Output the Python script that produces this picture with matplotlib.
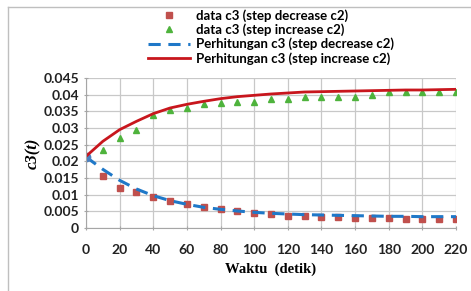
import matplotlib

matplotlib.use("Agg")
import matplotlib.pyplot as plt
from matplotlib.lines import Line2D

t_data = [0, 10, 20, 30, 40, 50, 60, 70, 80, 90, 100, 110, 120, 130, 140,
          150, 160, 170, 180, 190, 200, 210, 220]
data_decrease = [0.0213, 0.0155, 0.0121, 0.0108, 0.0092, 0.0081, 0.0073, 0.0064,
                 0.0056, 0.0050, 0.0044, 0.0042, 0.0037, 0.0035, 0.0032, 0.0032,
                 0.0030, 0.0030, 0.0029, 0.0027, 0.0027, 0.0027, 0.0027]
data_increase = [0.0213, 0.0235, 0.0270, 0.0293, 0.0340, 0.0355, 0.0360, 0.0372,
                 0.0375, 0.0377, 0.0377, 0.0387, 0.0387, 0.0394, 0.0394, 0.0394,
                 0.0394, 0.0399, 0.0408, 0.0408, 0.0408, 0.0408, 0.0408]
calc_decrease = [0.0213, 0.0176, 0.0143, 0.0117, 0.0097, 0.0082, 0.0071, 0.0062,
                 0.0056, 0.0051, 0.0047, 0.0044, 0.0042, 0.0040, 0.0039, 0.0038,
                 0.0037, 0.0036, 0.0035, 0.0035, 0.0034, 0.0034, 0.0034]
calc_increase = [0.0215, 0.0260, 0.0295, 0.0320, 0.0343, 0.0360, 0.0371, 0.0380,
                 0.0388, 0.0394, 0.0398, 0.0402, 0.0405, 0.0408, 0.0409, 0.0410,
                 0.0411, 0.0412, 0.0413, 0.0414, 0.0414, 0.0415, 0.0416]

fig = plt.figure(figsize=(4.71, 2.91), dpi=100)
ax = fig.add_axes([0.1826, 0.2165, 0.7855, 0.5155])

ax.plot(t_data, data_decrease, "s", color="#c0504d", ms=4.5, ls="none",
        label="data c3 (step decrease c2)")
ax.plot(t_data, data_increase, "^", color="#4eb33c", ms=4.5, ls="none",
        label="data c3 (step increase c2)")
ax.plot(t_data, calc_decrease, "--", color="#1f78c8", lw=2.2, dashes=(4, 2.5),
        label="Perhitungan c3 (step decrease c2)")
ax.plot(t_data[:1], calc_decrease[:1], "o", color="#4a7fc1", ms=6)
ax.plot(t_data, calc_increase, "-", color="#c8161d", lw=2,
        label="Perhitungan c3 (step increase c2)")

ax.set_xlim(0, 220)
ax.set_ylim(0, 0.045)
ax.set_xticks(range(0, 221, 20))
ax.set_yticks([i * 0.005 for i in range(10)])
ax.set_yticklabels(["0", "0.005", "0.01", "0.015", "0.02", "0.025", "0.03",
                    "0.035", "0.04", "0.045"])
ax.grid(True, color="#c8c8c8", lw=0.9)
ax.set_axisbelow(True)
for s in ["top", "right"]:
    ax.spines[s].set_visible(False)
for s in ["left", "bottom"]:
    ax.spines[s].set_color("#a6a6a6")
ax.tick_params(axis="both", colors="#a6a6a6", labelcolor="#222222", length=3,
               direction="inout", labelsize=10)
for lab in ax.get_xticklabels() + ax.get_yticklabels():
    lab.set_fontfamily("Lato")
    lab.set_fontweight("bold")
ax.tick_params(axis="x", pad=10)

ax.set_xlabel("Waktu  (detik)", fontfamily="Liberation Serif", fontweight="bold",
              fontsize=10.5, labelpad=5)
ax.set_ylabel("c3(t)", fontfamily="Liberation Serif", fontstyle="italic",
              fontweight="bold", fontsize=12, labelpad=2)

leg = ax.legend(loc="lower center", bbox_to_anchor=(0.575, 0.755), bbox_transform=fig.transFigure,
                frameon=False, handlelength=3.2, handletextpad=0.4, labelspacing=0.12,
                borderpad=0.0, prop={"family": "Lato", "weight": "bold", "size": 9.5})

fig.add_artist(Line2D([0.017, 1.0], [0.976, 0.976], color="#bfbfbf", lw=1,
                      transform=fig.transFigure))
fig.add_artist(Line2D([0.017, 0.017], [0.0, 0.976], color="#bfbfbf", lw=1,
                      transform=fig.transFigure))

fig.savefig("out.png", dpi=100)
